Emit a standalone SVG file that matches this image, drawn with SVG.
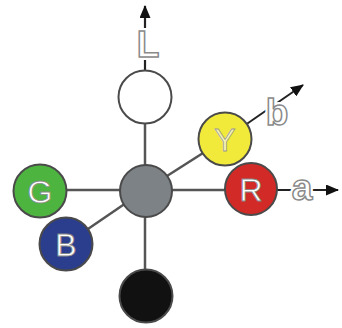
<svg xmlns="http://www.w3.org/2000/svg" width="342" height="328" viewBox="0 0 342 328">
<defs>
<marker id="ah" viewBox="0 0 13 11" refX="12" refY="5.5" markerWidth="13" markerHeight="11" orient="auto" markerUnits="userSpaceOnUse">
<path d="M0,0 L13,5.5 L0,11 z" fill="#111"/>
</marker>
<style>
.edge{stroke:#555;stroke-width:2.5;fill:none}
.arr{stroke:#222;stroke-width:2;fill:none}
.node{stroke:#4a4a4a;stroke-width:2}
.lbl{font-family:"Liberation Sans",Arial,sans-serif;font-size:32px;fill:#fff;stroke:#888;stroke-width:0.8;text-anchor:middle}
.axis{font-family:"Liberation Sans",Arial,sans-serif;font-size:37px;font-weight:bold;text-anchor:middle}
.halo{fill:#fff;stroke:#fff;stroke-width:6}
.out{fill:#fff;stroke:#8a8a8a;stroke-width:1.5}
</style>
</defs>
<rect width="342" height="328" fill="#fff"/>
<g id="connectors">
<line class="edge" x1="40" y1="190" x2="251" y2="190"/>
<line class="edge" x1="145" y1="296" x2="145" y2="97"/>
<line class="edge" x1="66" y1="244" x2="145" y2="190"/>
<line class="edge" x1="145" y1="190" x2="225" y2="139"/>
<line class="arr" x1="145" y1="97" x2="145" y2="6" marker-end="url(#ah)" style="stroke-width:2.2"/>
<line class="arr" x1="225" y1="139" x2="303" y2="85" marker-end="url(#ah)"/>
<line class="arr" x1="251" y1="190" x2="338" y2="190" marker-end="url(#ah)"/>
</g>
<g id="axis-L" class="axis"><text class="halo" x="148" y="57">L</text><text class="out" x="148" y="57">L</text></g>
<g id="axis-b" class="axis"><text class="halo" x="277" y="125">b</text><text class="out" x="277" y="125">b</text></g>
<g id="axis-a" class="axis"><text class="halo" x="302" y="200">a</text><text class="out" x="302" y="200">a</text></g>
<g id="node-white"><circle class="node" cx="145" cy="97" r="26.5" fill="#fff"/></g>
<g id="node-gray"><circle class="node" cx="146" cy="191" r="26" fill="#7d8286"/></g>
<g id="node-Y"><circle class="node" cx="225" cy="139" r="26.5" fill="#f1ea3b"/><text class="lbl" x="225" y="151" style="fill:#f7f4b0;stroke:#999">Y</text></g>
<g id="node-R"><circle class="node" cx="251" cy="189" r="26" fill="#d22a26"/><text class="lbl" x="251" y="201">R</text></g>
<g id="node-G"><circle class="node" cx="40" cy="191" r="26.5" fill="#4db53f"/><text class="lbl" x="40" y="203">G</text></g>
<g id="node-B"><circle class="node" cx="66" cy="244" r="26.5" fill="#2b3d8d"/><text class="lbl" x="66" y="256">B</text></g>
<g id="node-black"><circle class="node" cx="146" cy="296" r="26.5" fill="#111"/></g>
</svg>
